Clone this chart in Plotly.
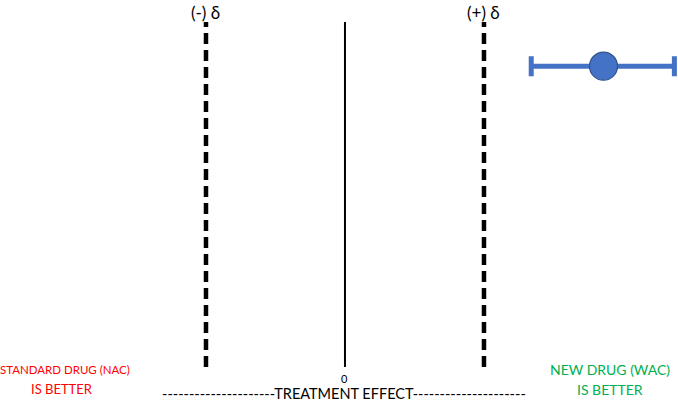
import plotly.graph_objects as go

# Data
margin_labels = ["(-) δ", "(+) δ"]
margins = [-1.0, 1.0]          # margins (units of δ)
null_effect = [0.0]
null_label = ["0"]
estimate = [1.86]
ci_low = [1.34]
ci_high = [2.37]
left_lines = ["STANDARD DRUG (NAC)", "IS BETTER"]
right_lines = ["NEW DRUG (WAC)", "IS BETTER"]
axis_title = "-" * 21 + "TREATMENT EFFECT" + "-" * 21

W, H = 678, 401
x_range = [-2.482, 2.396]
y_lo, y_hi = 0.085, 0.945
y_pt = 0.835
font = "Lato, Open Sans, sans-serif"

fig = go.Figure()

for m in margins:
    fig.add_trace(go.Scatter(x=[m, m], y=[y_lo, y_hi], mode="lines",
                             line=dict(color="black", width=4.5, dash="11px,6px"),
                             hoverinfo="skip", showlegend=False))
for z in null_effect:
    fig.add_trace(go.Scatter(x=[z, z], y=[y_lo, y_hi], mode="lines",
                             line=dict(color="black", width=2),
                             hoverinfo="skip", showlegend=False))

fig.add_trace(go.Scatter(
    x=estimate, y=[y_pt], mode="markers",
    marker=dict(size=28, color="#4472C4", line=dict(color="#2F528F", width=1.2)),
    error_x=dict(type="data", symmetric=False,
                 array=[ci_high[0] - estimate[0]],
                 arrayminus=[estimate[0] - ci_low[0]],
                 color="#4472C4", thickness=5, width=10),
    showlegend=False, hoverinfo="skip"))

def ann(x, y, text, size, color, xref="x", xanchor="center"):
    fig.add_annotation(x=x, xref=xref, y=1 - y / H, yref="paper", text=text,
                       showarrow=False, xanchor=xanchor, yanchor="middle",
                       font=dict(family=font, size=size, color=color))

for m, lab in zip(margins, margin_labels):
    ann(m, 13, lab, 17, "black")
for z, lab in zip(null_effect, null_label):
    ann(z, 378, lab, 11, "black")

ann(-2 / W, 369, left_lines[0], 11.5, "#FF0000", xref="paper", xanchor="left")
ann(62 / W, 389, left_lines[1], 13, "#FF0000", xref="paper")
ann(610 / W, 369, right_lines[0], 14, "#00B050", xref="paper")
ann(610 / W, 389, right_lines[1], 14, "#00B050", xref="paper")
ann(344 / W, 393, axis_title, 14.5, "black", xref="paper")

fig.update_layout(
    width=W, height=H, margin=dict(l=0, r=0, t=0, b=0),
    paper_bgcolor="white", plot_bgcolor="white",
    xaxis=dict(range=x_range, visible=False, fixedrange=True),
    yaxis=dict(range=[0, 1], visible=False, fixedrange=True),
)
fig.write_html("out.html")
